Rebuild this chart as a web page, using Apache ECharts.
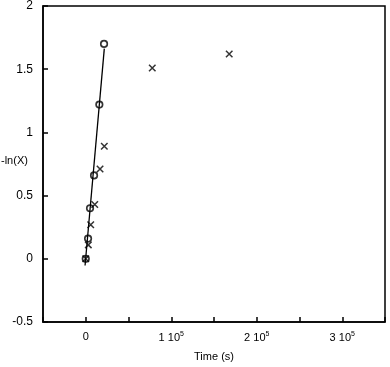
<!DOCTYPE html>
<html>
<head>
<meta charset="utf-8">
<script src="https://cdn.jsdelivr.net/npm/echarts@6/dist/echarts.min.js"></script>
<style>html,body{margin:0;padding:0;background:#fff}#c{width:390px;height:367px}</style>
</head>
<body>
<div id="c"></div>
<script>
// Data
var circleTime = [0, 2700, 5000, 9700, 15900, 21400];
var circleVal  = [0, 0.16, 0.40, 0.66, 1.22, 1.70];
var crossTime  = [0, 3000, 5800, 10500, 16700, 21700, 77800, 167800];
var crossVal   = [0, 0.11, 0.27, 0.43, 0.71, 0.89, 1.51, 1.62];
var fitTime    = [-800, 21700];
var fitVal     = [-0.053, 1.663];
var yTicks     = [-0.5, 0, 0.5, 1, 1.5, 2];
var xLabelVals = [0, 100000, 200000, 300000];

function pairs(a, b) { return a.map(function (v, i) { return [v, b[i]]; }); }

var font = 'Liberation Sans, Arial, sans-serif';
var chart = echarts.init(document.getElementById('c'));
chart.setOption({
  animation: false,
  grid: { left: 43, right: 5, top: 5, bottom: 36, show: true, borderColor: '#000', borderWidth: 1.5 },
  xAxis: {
    type: 'value', min: -50000, max: 350000, interval: 50000,
    name: 'Time (s)', nameLocation: 'middle', nameGap: 29,
    nameTextStyle: { fontFamily: font, fontSize: 11, color: '#000' },
    axisLine: { onZero: false, lineStyle: { color: '#000', width: 1.5 } },
    axisTick: { inside: true, length: 5, lineStyle: { color: '#000', width: 1.5 } },
    splitLine: { show: false },
    axisLabel: {
      margin: 9, color: '#000', fontFamily: font, fontSize: 11,
      formatter: function (v) {
        if (xLabelVals.indexOf(v) < 0) return '';
        if (v === 0) return '0';
        return (v / 100000) + ' 10{s|5}';
      },
      rich: { s: { fontSize: 7, verticalAlign: 'top', padding: [0, 0, 7, 0], fontFamily: font, color: '#000' } }
    }
  },
  yAxis: {
    type: 'value', min: yTicks[0], max: yTicks[yTicks.length - 1], interval: 0.5,
    axisLine: { show: true, onZero: false, lineStyle: { color: '#000', width: 1.5 } },
    axisTick: { show: true, inside: true, length: 5, lineStyle: { color: '#000', width: 1.5 } },
    splitLine: { show: false },
    axisLabel: { margin: 10, color: '#000', fontFamily: font, fontSize: 12 }
  },
  graphic: [{
    type: 'text', left: 1, top: 155,
    style: { text: '-ln(X)', font: '11px ' + font, fill: '#000' }
  }],
  series: [
    {
      type: 'line', data: pairs(fitTime, fitVal), symbol: 'none',
      lineStyle: { color: '#000', width: 1.3 }, z: 2
    },
    {
      type: 'scatter', data: pairs(crossTime, crossVal),
      symbol: 'path://M0,0L10,10M10,0L0,10', symbolSize: 6.5,
      itemStyle: { color: 'none', borderColor: '#000', borderWidth: 1.5 }, z: 3
    },
    {
      type: 'scatter', data: pairs(circleTime, circleVal),
      symbol: 'circle', symbolSize: 6.5,
      itemStyle: { color: 'rgba(255,255,255,0)', borderColor: '#000', borderWidth: 1.7 }, z: 4
    }
  ]
});
</script>
</body>
</html>
